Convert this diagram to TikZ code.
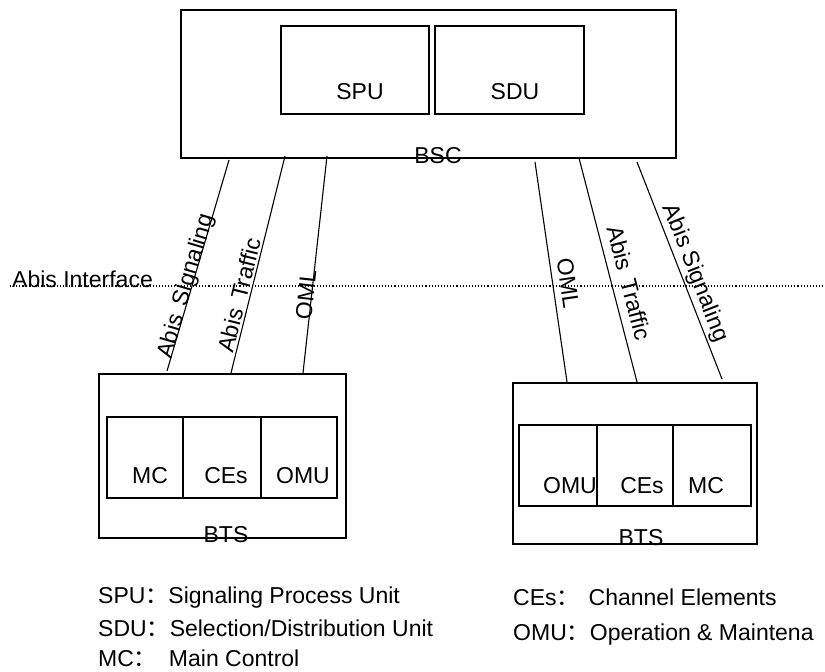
\documentclass[tikz,border=0pt]{standalone}
\usepackage{fontspec}
\setmainfont{Liberation Sans}
\newfontfamily\cjk{Noto Sans CJK SC}
\newcommand\fwcolon{{\cjk ：}}
\begin{document}
\begin{tikzpicture}[x=1pt,y=-1pt,
  every node/.style={font=\fontsize{23}{27}\selectfont, inner sep=0pt},
  box/.style={draw, line width=1.2pt, rectangle},
  link/.style={line width=1.1pt},
  iface/.style={line width=1.1pt, dash pattern=on 1.1pt off 2pt},
  lbl/.style={anchor=base},
  rlbl/.style={anchor=center}]
\useasboundingbox (0,0) rectangle (825,672);

% BSC with its two units
\node[box, minimum width=495pt, minimum height=148pt] (bsc) at (428.5,84) {};
\node[box, minimum width=148pt, minimum height=88pt] (spu) at (355,70) {};
\node[box, minimum width=149pt, minimum height=88pt] (sdu) at (509.5,70) {};
\node[lbl] (spulbl) at (360,99) {SPU};
\node[lbl] (sdulbl) at (515,99) {SDU};
\node[lbl] (bsclbl) at (438,163) {BSC};

% left BTS
\node[box, minimum width=247pt, minimum height=164pt] (btsa) at (222.5,456) {};
\node[box, minimum width=76pt, minimum height=81pt] (mca) at (145,457.5) {};
\node[box, minimum width=78pt, minimum height=81pt] (cea) at (222,457.5) {};
\node[box, minimum width=76pt, minimum height=81pt] (omua) at (299,457.5) {};
\node[lbl] (mcalbl) at (150,483) {MC};
\node[lbl] (cealbl) at (226,483) {CEs};
\node[lbl] (omualbl) at (303,483) {OMU};
\node[lbl] (btsalbl) at (226,542) {BTS};

% right BTS
\node[box, minimum width=244pt, minimum height=161pt] (btsb) at (635,463.5) {};
\node[box, minimum width=78pt, minimum height=81pt] (omub) at (558,465.5) {};
\node[box, minimum width=76pt, minimum height=81pt] (ceb) at (635,465.5) {};
\node[box, minimum width=78pt, minimum height=81pt] (mcb) at (712,465.5) {};
\node[lbl] (omublbl) at (570,493) {OMU};
\node[lbl] (ceblbl) at (642,493) {CEs};
\node[lbl] (mcblbl) at (706,493) {MC};
\node[lbl] (btsblbl) at (641,545) {BTS};

% Abis interface
\coordinate (ifl) at (10,286);
\coordinate (ifr) at (825,286);
\draw[iface] (ifl) -- (ifr);
\node[anchor=base west] (ifacelbl) at (12,287) {Abis Interface};

% link end points on BSC and BTS
\coordinate (as1) at (229,160);  \coordinate (as2) at (167,371);
\coordinate (at1) at (285,156);  \coordinate (at2) at (231,373);
\coordinate (ao1) at (327,156);  \coordinate (ao2) at (303,373);
\coordinate (bo1) at (535,162);  \coordinate (bo2) at (567,382);
\coordinate (bt1) at (579,158);  \coordinate (bt2) at (637,382);
\coordinate (bs1) at (637,162);  \coordinate (bs2) at (722,379);

\draw[link] (as1) -- (as2);
\draw[link] (at1) -- (at2);
\draw[link] (ao1) -- (ao2);
\draw[link] (bo1) -- (bo2);
\draw[link] (bt1) -- (bt2);
\draw[link] (bs1) -- (bs2);

\node[rlbl, rotate=73.6] (assig) at (186.5,286.5) {Abis\hspace{10pt}Signaling};
\node[rlbl, rotate=76] (atraf) at (239,295) {Abis\hspace{10pt}Traffic};
\node[rlbl, rotate=83.7] (aoml) at (306,295) {OML};
\node[rlbl, rotate=-81.7] (boml) at (568,283) {OML};
\node[rlbl, rotate=-75.5] (btraf) at (629,283) {Abis\hspace{10pt}Traffic};
\node[rlbl, rotate=-68.6] (bsig) at (695,273) {Abis Signaling};

% legend
\node[anchor=base west] (legspu) at (98,603) {SPU\fwcolon Signaling Process Unit};
\node[anchor=base west] (legsdu) at (98,636) {SDU\fwcolon Selection/Distribution Unit};
\node[anchor=base west] (legmc) at (98,666) {MC\fwcolon\hspace{12pt}Main Control};
\node[anchor=base west] (legce) at (513,605) {CEs\fwcolon\hspace{9pt}Channel Elements};
\node[anchor=base west] (legomu) at (513,640) {OMU\fwcolon Operation \& Maintena};
\end{tikzpicture}
\end{document}
